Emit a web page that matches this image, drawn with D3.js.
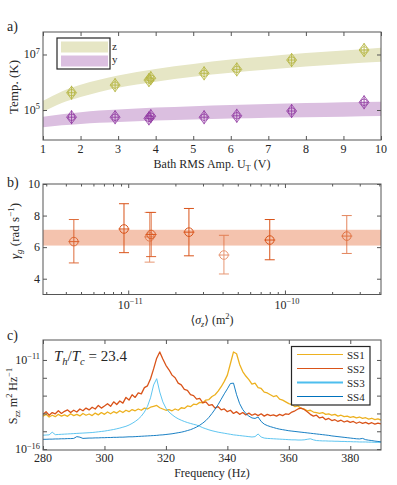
<!DOCTYPE html>
<html lang="en">
<head>
<meta charset="UTF-8">
<title>Bath temperature, damping and spectra</title>
<script src="https://d3js.org/d3.v7.min.js"></script>
<style>
  body { margin: 0; background: #fff; }
  svg, svg text { font-family: "Liberation Serif", "DejaVu Serif", serif; }
  text { fill: #262626; }
</style>
</head>
<body>
<div id="fig"></div>
<script>
// ---- panel a: temperature vs bath amplitude
const bathAmp = [1.76, 2.92, 3.82, 3.87, 5.29, 6.16, 7.62, 9.55];
const tempZ = [4.2e5, 7.9e5, 1.2e6, 1.4e6, 2.1e6, 2.9e6, 6.3e6, 1.45e7];
const tempY = [5.5e4, 5.5e4, 5.0e4, 6.0e4, 5.5e4, 6.2e4, 9.2e4, 1.9e5];
// model bands, log10(K)
const bandAmp = [1, 1.5, 2, 2.5, 3, 4, 5, 6, 7, 8, 9, 10];
const bandZLo = [4.93, 5.25, 5.47, 5.65, 5.80, 6.02, 6.20, 6.34, 6.46, 6.57, 6.66, 6.74];
const bandZHi = [5.33, 5.67, 5.91, 6.09, 6.24, 6.48, 6.66, 6.82, 6.94, 7.05, 7.14, 7.24];
const bandYLo = [4.38, 4.45, 4.50, 4.54, 4.57, 4.62, 4.66, 4.69, 4.72, 4.74, 4.76, 4.78];
const bandYHi = [4.76, 4.85, 4.92, 4.98, 5.02, 5.09, 5.14, 5.18, 5.22, 5.25, 5.28, 5.30];
const ampTicks = [1, 2, 3, 4, 5, 6, 7, 8, 9, 10];

// ---- panel b: damping vs mean squared displacement
const sigmaZ = [4.5e-12, 9.4e-12, 1.37e-11, 1.40e-11, 2.44e-11, 4.08e-11, 8.0e-11, 2.48e-10];
const gammaG = [6.35, 7.15, 6.65, 6.8, 6.95, 5.5, 6.45, 6.7];
const gammaLo = [5.0, 5.65, 5.05, 5.4, 5.45, 4.3, 5.2, 5.6];
const gammaHi = [7.75, 8.75, 8.2, 8.2, 8.45, 6.75, 7.75, 8.0];
const gammaBand = [6.1, 7.1];
const gammaTicks = [4, 6, 8, 10];

// ---- panel c: spectra, log10(m^2/Hz), 1 Hz steps from 280 to 390
const freq = d3.range(280, 391);
const ss1 = [-14.15,-14.05,-14.20,-14.10,-14.18,-14.05,-14.15,-14.08,-14.16,-14.02,
  -14.12,-14.05,-14.14,-14.00,-14.10,-14.03,-14.12,-13.98,-14.08,-13.95,
  -14.05,-13.92,-14.02,-13.90,-13.98,-13.85,-13.95,-13.82,-13.90,-13.78,
  -13.85,-13.75,-13.82,-13.70,-13.75,-13.65,-13.60,-13.55,-13.68,-13.75,
  -13.82,-13.78,-13.85,-13.75,-13.82,-13.68,-13.72,-13.58,-13.62,-13.48,
  -13.50,-13.38,-13.40,-13.25,-13.22,-13.05,-12.95,-12.75,-12.50,-12.20,
  -11.85,-11.20,-10.55,-10.65,-11.25,-11.65,-11.90,-12.10,-12.35,-12.30,
  -12.55,-12.60,-12.80,-12.85,-12.95,-13.05,-13.00,-13.20,-13.25,-13.35,
  -13.45,-13.50,-13.62,-13.58,-13.72,-13.75,-13.85,-13.82,-13.92,-13.95,
  -14.00,-13.95,-14.05,-14.02,-14.10,-14.05,-14.15,-14.10,-14.18,-14.15,
  -14.22,-14.18,-14.25,-14.20,-14.28,-14.24,-14.32,-14.27,-14.35,-14.30,
  -14.37];
const ss2 = [-14.05,-13.90,-14.10,-13.95,-14.02,-13.85,-14.00,-13.88,-13.80,-13.95,
  -13.82,-13.92,-13.75,-13.85,-13.70,-13.80,-13.65,-13.75,-13.55,-13.70,
  -13.58,-13.45,-13.60,-13.35,-13.50,-13.30,-13.42,-13.10,-13.25,-12.95,
  -13.10,-12.85,-12.90,-12.55,-12.45,-12.05,-11.50,-10.90,-10.55,-10.95,
  -11.30,-11.55,-11.85,-12.00,-12.30,-12.40,-12.65,-12.70,-12.95,-13.00,
  -13.20,-13.15,-13.40,-13.35,-13.55,-13.50,-13.70,-13.62,-13.80,-13.75,
  -13.90,-13.82,-14.00,-13.90,-14.05,-13.95,-14.08,-13.98,-14.10,-14.02,
  -14.12,-14.02,-14.15,-14.05,-14.12,-14.08,-14.15,-14.05,-14.12,-14.02,
  -14.05,-13.92,-13.85,-13.75,-13.70,-13.78,-13.90,-14.05,-14.15,-14.10,
  -14.25,-14.20,-14.35,-14.28,-14.40,-14.35,-14.45,-14.38,-14.48,-14.42,
  -14.50,-14.45,-14.55,-14.48,-14.56,-14.50,-14.58,-14.52,-14.60,-14.54,
  -14.58];
const ss3 = [-15.22,-15.21,-15.20,-15.05,-15.19,-15.18,-15.17,-15.16,-15.15,-15.14,
  -15.13,-15.12,-15.11,-15.10,-15.09,-15.08,-15.07,-15.05,-15.03,-15.01,
  -14.99,-14.96,-14.93,-14.90,-14.86,-14.82,-14.77,-14.72,-14.65,-14.56,
  -14.45,-14.32,-14.15,-13.92,-13.60,-13.12,-12.40,-12.05,-12.80,-13.35,
  -13.70,-13.92,-14.07,-14.20,-14.30,-14.38,-14.45,-14.51,-14.56,-14.61,
  -14.65,-14.72,-14.80,-14.86,-14.92,-14.97,-15.01,-15.05,-15.08,-15.11,
  -15.14,-15.17,-15.20,-15.22,-15.24,-15.26,-15.28,-15.30,-15.32,-15.30,
  -15.15,-15.32,-15.38,-15.40,-15.41,-15.42,-15.43,-15.44,-15.45,-15.46,
  -15.47,-15.48,-15.48,-15.49,-15.49,-15.48,-15.45,-15.42,-15.48,-15.52,
  -15.53,-15.54,-15.54,-15.55,-15.55,-15.56,-15.56,-15.57,-15.57,-15.58,
  -15.58,-15.59,-15.59,-15.60,-15.60,-15.60,-15.61,-15.61,-15.62,-15.62,
  -15.62];
const ss4 = [-15.45,-15.45,-15.44,-15.44,-15.43,-15.43,-15.42,-15.42,-15.41,-15.41,
  -15.40,-15.30,-15.33,-15.40,-15.39,-15.38,-15.38,-15.37,-15.37,-15.36,
  -15.36,-15.35,-15.35,-15.34,-15.34,-15.33,-15.33,-15.32,-15.31,-15.31,
  -15.30,-15.29,-15.28,-15.27,-15.26,-15.25,-15.24,-15.23,-15.21,-15.20,
  -15.18,-15.16,-15.14,-15.11,-15.08,-15.05,-15.01,-14.96,-14.91,-14.84,
  -14.76,-14.66,-14.54,-14.40,-14.22,-14.00,-13.76,-13.50,-13.20,-12.90,
  -12.62,-12.32,-12.30,-12.95,-13.45,-13.78,-14.00,-14.15,-14.25,-14.28,
  -14.20,-14.45,-14.60,-14.68,-14.74,-14.79,-14.84,-14.88,-14.91,-14.94,
  -14.97,-14.99,-15.01,-15.03,-15.05,-15.07,-15.09,-15.11,-15.13,-15.15,
  -15.17,-15.19,-15.21,-15.23,-15.26,-15.28,-15.30,-15.32,-15.34,-15.36,
  -15.38,-15.40,-15.42,-15.43,-15.40,-15.47,-15.50,-15.52,-15.55,-15.57,
  -15.59];
const spectraNames = ["SS1", "SS2", "SS3", "SS4"];
const freqTicks = [280, 300, 320, 340, 360, 380];
const psdTicks = [-16, -15, -14, -13, -12, -11];
const tempRatio = "23.4";

// ---- layout
const w = 397, h = 485;
const left = 43, right = 381;
const axisCol = "#555";
const serif = "Liberation Serif, DejaVu Serif, serif";

const svg = d3.select("#fig").append("svg")
  .attr("width", w).attr("height", h)
  .attr("font-family", serif);

// text with sub/superscripts: parts = [[str, "sub"|"sup"|null, italic]]
function rich(sel, parts, size) {
  let shift = 0;
  sel.attr("font-family", serif);
  parts.forEach(([s, kind, it]) => {
    let target = kind === "sup" ? -0.38 * size : kind === "sub" ? 0.25 * size : 0;
    const t = sel.append("tspan").text(s)
      .attr("dy", target - shift)
      .attr("font-size", kind ? size * 0.7 : size);
    if (it) t.attr("font-style", "italic");
    shift = target;
  });
  return sel;
}

function frame(top, bottom) {
  svg.append("rect")
    .attr("x", left).attr("y", top)
    .attr("width", right - left).attr("height", bottom - top)
    .attr("fill", "none").attr("stroke", axisCol).attr("stroke-width", 1);
}

function tickAxes(x, y, top, bottom, xt, yt, xMinor) {
  const styleAx = g => {
    g.select(".domain").remove();
    g.selectAll("line").attr("stroke", axisCol);
    g.selectAll("text").remove();
  };
  svg.append("g").attr("transform", `translate(0,${bottom})`)
    .call(d3.axisBottom(x).tickValues(xt).tickSize(-4)).call(styleAx);
  svg.append("g").attr("transform", `translate(0,${top})`)
    .call(d3.axisTop(x).tickValues(xt).tickSize(-4)).call(styleAx);
  if (xMinor) {
    svg.append("g").attr("transform", `translate(0,${bottom})`)
      .call(d3.axisBottom(x).tickValues(xMinor).tickSize(-2.5)).call(styleAx);
    svg.append("g").attr("transform", `translate(0,${top})`)
      .call(d3.axisTop(x).tickValues(xMinor).tickSize(-2.5)).call(styleAx);
  }
  svg.append("g").attr("transform", `translate(${left},0)`)
    .call(d3.axisLeft(y).tickValues(yt).tickSize(-4)).call(styleAx);
  svg.append("g").attr("transform", `translate(${right},0)`)
    .call(d3.axisRight(y).tickValues(yt).tickSize(-4)).call(styleAx);
}

function panelLabel(s, y) {
  svg.append("text").attr("x", 7).attr("y", y).attr("font-size", 14).text(s);
}

// ================= panel a
const aTop = 32, aBot = 140;
const xA = d3.scaleLinear().domain([1, 10]).range([left, right]);
const yA = d3.scaleLog().domain([Math.pow(10, 3.92), Math.pow(10, 7.81)]).range([aBot, aTop]);

const bandArea = (lo, hi) => d3.area()
  .x((d, i) => xA(bandAmp[i]))
  .y0((d, i) => yA(Math.pow(10, lo[i])))
  .y1((d, i) => yA(Math.pow(10, hi[i])))
  .curve(d3.curveMonotoneX);

svg.append("path").datum(bandAmp).attr("d", bandArea(bandZLo, bandZHi)).attr("fill", "#e6e6c5");
svg.append("path").datum(bandAmp).attr("d", bandArea(bandYLo, bandYHi)).attr("fill", "#dbbfe0");

function diamondMarker(cx, cy, col) {
  const g = svg.append("g").attr("stroke", col).attr("fill", "none").attr("stroke-width", 0.8);
  g.append("path").attr("d", `M${cx},${cy - 6.5}L${cx + 5},${cy}L${cx},${cy + 6.5}L${cx - 5},${cy}Z`);
  g.append("circle").attr("cx", cx).attr("cy", cy).attr("r", 3.3);
  g.append("line").attr("x1", cx - 4.5).attr("x2", cx + 4.5).attr("y1", cy).attr("y2", cy);
  g.append("line").attr("x1", cx).attr("x2", cx).attr("y1", cy - 7).attr("y2", cy + 7);
}
bathAmp.forEach((u, i) => diamondMarker(xA(u), yA(tempZ[i]), "#b3b33a"));
bathAmp.forEach((u, i) => diamondMarker(xA(u), yA(tempY[i]), "#8e35a0"));

frame(aTop, aBot);
tickAxes(xA, yA, aTop, aBot, ampTicks, [1e5, 1e7]);

svg.append("g").selectAll("text").data(ampTicks).join("text")
  .attr("x", d => xA(d)).attr("y", 153).attr("text-anchor", "middle")
  .attr("font-size", 12).text(d => d);
[[1e5, "5"], [1e7, "7"]].forEach(([v, e]) => {
  rich(svg.append("text").attr("x", 40).attr("y", yA(v) + 4).attr("text-anchor", "end"),
    [["10", null], [e, "sup"]], 12);
});
rich(svg.append("text").attr("x", 212).attr("y", 168).attr("text-anchor", "middle"),
  [["Bath RMS Amp. U", null], ["T", "sub"], [" (V)", null]], 12);
svg.append("text").attr("transform", "translate(18,87) rotate(-90)")
  .attr("text-anchor", "middle").attr("font-size", 13).text("Temp. (K)");
panelLabel("a)", 31);

// legend a
svg.append("rect").attr("x", 57).attr("y", 38).attr("width", 53).attr("height", 31)
  .attr("fill", "#fff").attr("stroke", "#262626").attr("stroke-width", 1.2);
svg.append("rect").attr("x", 61).attr("y", 41.5).attr("width", 47).attr("height", 11).attr("fill", "#e6e6c5");
svg.append("rect").attr("x", 61).attr("y", 55.5).attr("width", 47).attr("height", 11).attr("fill", "#dbbfe0");
svg.append("text").attr("x", 112).attr("y", 50).attr("font-size", 11).text("z");
svg.append("text").attr("x", 112).attr("y", 63).attr("font-size", 11).text("y");

// ================= panel b
const bTop = 184, bBot = 294.5;
const xB = d3.scaleLog().domain([2.86e-12, 4.1e-10]).range([left, right]);
const yB = d3.scaleLinear().domain([3, 10]).range([bBot, bTop]);

svg.append("rect").attr("x", left).attr("width", right - left)
  .attr("y", yB(gammaBand[1])).attr("height", yB(gammaBand[0]) - yB(gammaBand[1]))
  .attr("fill", "#f4c3ae");

const bAlpha = [0.85, 1, 0.6, 0.9, 1, 0.6, 1, 0.7];
sigmaZ.forEach((s, i) => {
  const cx = xB(s), cy = yB(gammaG[i]);
  const g = svg.append("g").attr("stroke", "#d95319").attr("fill", "none")
    .attr("stroke-width", 1).attr("opacity", bAlpha[i]);
  g.append("line").attr("x1", cx).attr("x2", cx).attr("y1", yB(gammaLo[i])).attr("y2", yB(gammaHi[i]));
  g.append("line").attr("x1", cx - 5).attr("x2", cx + 5).attr("y1", yB(gammaLo[i])).attr("y2", yB(gammaLo[i]));
  g.append("line").attr("x1", cx - 5).attr("x2", cx + 5).attr("y1", yB(gammaHi[i])).attr("y2", yB(gammaHi[i]));
  g.append("circle").attr("cx", cx).attr("cy", cy).attr("r", 4.3);
  g.append("line").attr("x1", cx - 5.5).attr("x2", cx + 5.5).attr("y1", cy).attr("y2", cy);
});

const bMinor = [];
[-12, -11, -10].forEach(k => d3.range(2, 10).forEach(m => {
  const v = m * Math.pow(10, k);
  if (v > 2.86e-12 && v < 4.1e-10) bMinor.push(v);
}));
frame(bTop, bBot);
tickAxes(xB, yB, bTop, bBot, [1e-11, 1e-10], gammaTicks, bMinor);

svg.append("g").selectAll("text").data(gammaTicks).join("text")
  .attr("x", 40).attr("y", d => yB(d) + 4).attr("text-anchor", "end")
  .attr("font-size", 12).text(d => d);
[[1e-11, "\u221211"], [1e-10, "\u221210"]].forEach(([v, e]) => {
  rich(svg.append("text").attr("x", xB(v) + 2).attr("y", 309).attr("text-anchor", "middle"),
    [["10", null], [e, "sup"]], 12);
});
rich(svg.append("text").attr("x", 212).attr("y", 324).attr("text-anchor", "middle"),
  [["\u27E8", null], ["\u03C3", null, true], ["z", "sub", true], ["\u27E9 (m", null], ["2", "sup"], [")", null]], 12);
rich(svg.append("text").attr("transform", "translate(19,231) rotate(-90)").attr("text-anchor", "middle"),
  [["\u03B3", null, true], ["g", "sub", true], [" (rad s", null], ["\u22121", "sup"], [")", null]], 13);
panelLabel("b)", 187);

// ================= panel c
const cTop = 340, cBot = 450;
const xC = d3.scaleLinear().domain([280, 390]).range([left, right]);
const yC = d3.scaleLog().domain([Math.pow(10, -16.05), Math.pow(10, -9.88)]).range([cBot, cTop]);

svg.append("clipPath").attr("id", "clipC").append("rect")
  .attr("x", left).attr("y", cTop).attr("width", right - left).attr("height", cBot - cTop);

const specCols = ["#edb120", "#d95319", "#4dbeee", "#0072bd"];
const specLine = d3.line().x((d, i) => xC(freq[i])).y(d => yC(Math.pow(10, d)));
const gC = svg.append("g").attr("clip-path", "url(#clipC)");
[ss1, ss2, ss3, ss4].forEach((s, k) => {
  gC.append("path").datum(s).attr("d", specLine)
    .attr("fill", "none").attr("stroke", specCols[k])
    .attr("stroke-width", k < 2 ? 1.3 : 0.9).attr("stroke-linejoin", "round");
});

frame(cTop, cBot);
tickAxes(xC, yC, cTop, cBot, freqTicks, psdTicks.map(e => Math.pow(10, e)));

svg.append("g").selectAll("text").data(freqTicks).join("text")
  .attr("x", d => xC(d)).attr("y", 462).attr("text-anchor", "middle")
  .attr("font-size", 12).text(d => d);
[[-11, "\u221211"], [-16, "\u221216"]].forEach(([e, s]) => {
  rich(svg.append("text").attr("x", 40).attr("y", yC(Math.pow(10, e)) + 4).attr("text-anchor", "end"),
    [["10", null], [s, "sup"]], 12);
});
svg.append("text").attr("x", 212).attr("y", 477).attr("text-anchor", "middle")
  .attr("font-size", 12).text("Frequency (Hz)");
rich(svg.append("text").attr("transform", "translate(17,396) rotate(-90)").attr("text-anchor", "middle"),
  [["S", null], ["zz", "sub"], [" m", null], ["2", "sup"], [" Hz", null], ["\u22121", "sup"]], 12);
rich(svg.append("text").attr("x", 54).attr("y", 361),
  [["T", null, true], ["h", "sub", true], ["/", null], ["T", null, true], ["c", "sub", true], [" = " + tempRatio, null]], 15);
panelLabel("c)", 340);

// legend c
svg.append("rect").attr("x", 291.5).attr("y", 346.5).attr("width", 78.5).attr("height", 58.5)
  .attr("fill", "#fff").attr("stroke", "#262626").attr("stroke-width", 1.2);
spectraNames.forEach((n, k) => {
  const ly = 354.5 + k * 14;
  svg.append("line").attr("x1", 297).attr("x2", 343).attr("y1", ly).attr("y2", ly)
    .attr("stroke", specCols[k]).attr("stroke-width", k === 2 ? 2.2 : 1);
  svg.append("text").attr("x", 347).attr("y", ly + 4).attr("font-size", 11).text(n);
});
</script>
</body>
</html>
